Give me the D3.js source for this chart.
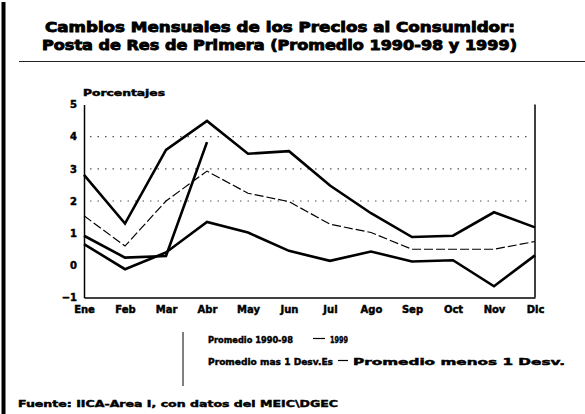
<!DOCTYPE html>
<html>
<head>
<meta charset="utf-8">
<script src="https://cdn.jsdelivr.net/npm/d3@7"></script>
<style>
  body { margin: 0; background: #fff; }
  svg { display: block; font-family: "DejaVu Sans", sans-serif; font-weight: bold; }
  text { stroke: #000; stroke-width: 0.45px; fill: #000; }
  text.title { stroke-width: 0.9px; }
</style>
</head>
<body>
<svg id="chart" width="585" height="414"></svg>
<script>
// meses y series (porcentaje de cambio mensual)
var months = ["Ene", "Feb", "Mar", "Abr", "May", "Jun", "Jul", "Ago", "Sep", "Oct", "Nov", "Dic"];
var masDesv = [2.81, 1.30, 3.59, 4.49, 3.47, 3.55, 2.48, 1.62, 0.88, 0.92, 1.65, 1.18];
var promedio = [1.54, 0.60, 2.00, 2.93, 2.24, 1.98, 1.28, 1.02, 0.50, 0.50, 0.50, 0.74];
var menosDesv = [0.66, -0.12, 0.40, 1.35, 1.02, 0.45, 0.14, 0.43, 0.12, 0.16, -0.65, 0.31];
var y1999 = [0.92, 0.24, 0.29, 3.83];
var yTicks = [-1, 0, 1, 2, 3, 4, 5];
var gridTicks = [2, 3, 4];

var svg = d3.select("#chart");

var x = d3.scalePoint().domain(months).range([84, 535]);
var y = d3.scaleLinear().domain([-1, 5]).range([297.5, 104.5]);

// barra izquierda y regla del titulo
svg.append("rect").attr("x", 1.5).attr("y", 2).attr("width", 4).attr("height", 412).attr("fill", "#000");
svg.append("line").attr("x1", 19).attr("x2", 585).attr("y1", 61.5).attr("y2", 61.5)
  .attr("stroke", "#222").attr("stroke-width", 1);

// titulo
svg.append("text").attr("class", "title").attr("x", 45).attr("y", 32).attr("font-size", 14.5)
  .attr("textLength", 470).attr("lengthAdjust", "spacingAndGlyphs")
  .text("Cambios Mensuales de los Precios al Consumidor:");
svg.append("text").attr("class", "title").attr("x", 42).attr("y", 49.5).attr("font-size", 14.5)
  .attr("textLength", 475).attr("lengthAdjust", "spacingAndGlyphs")
  .text("Posta de Res de Primera (Promedio 1990-98 y 1999)");

svg.append("text").attr("x", 83).attr("y", 95.5).attr("font-size", 8.5)
  .attr("textLength", 82).attr("lengthAdjust", "spacingAndGlyphs")
  .text("Porcentajes");

// cuadricula punteada
svg.append("g").selectAll("line").data(gridTicks).enter().append("line")
  .attr("x1", 90).attr("x2", 530)
  .attr("y1", function(d) { return y(d); }).attr("y2", function(d) { return y(d); })
  .attr("stroke", "#555").attr("stroke-width", 1.2).attr("stroke-dasharray", "1.5,6");

// ejes
var yAxis = svg.append("g").attr("transform", "translate(84,0)")
  .call(d3.axisLeft(y).tickValues(yTicks).tickSize(0).tickPadding(7).tickFormat(d3.format("d")));
yAxis.selectAll("text").attr("font-size", 10).attr("font-weight", "bold").attr("fill", "#000")
  .attr("font-family", "DejaVu Sans");
yAxis.select(".domain").attr("stroke", "#000").attr("stroke-width", 1.5);

var xAxis = svg.append("g").attr("transform", "translate(0,297.5)")
  .call(d3.axisBottom(x).tickSize(0).tickPadding(8));
xAxis.selectAll("text").attr("font-size", 10).attr("font-weight", "bold").attr("fill", "#000")
  .attr("font-family", "DejaVu Sans");
xAxis.select(".domain").attr("stroke", "#000").attr("stroke-width", 1.5);

// linea derecha
svg.append("line").attr("x1", x("Dic")).attr("x2", x("Dic")).attr("y1", y(5)).attr("y2", y(-1))
  .attr("stroke", "#000").attr("stroke-width", 1.5);

var line = d3.line()
  .x(function(d, i) { return x(months[i]); })
  .y(function(d) { return y(d); });

function drawSeries(values, width, dash) {
  svg.append("path").datum(values)
    .attr("d", line)
    .attr("fill", "none")
    .attr("stroke", "#000")
    .attr("stroke-width", width)
    .attr("stroke-linejoin", "miter")
    .attr("stroke-dasharray", dash);
}
drawSeries(promedio, 1.2, "9,3");
drawSeries(masDesv, 2.6, null);
drawSeries(menosDesv, 2.6, null);
drawSeries(y1999, 2.6, null);

// leyenda
svg.append("line").attr("x1", 183).attr("x2", 183).attr("y1", 332).attr("y2", 386)
  .attr("stroke", "#000").attr("stroke-width", 1);
var legendText = [
  { t: "Promedio 1990-98", x: 208, y: 343, w: 85 },
  { t: "1999", x: 330, y: 343, w: 18 },
  { t: "Promedio mas 1 Desv.Es", x: 208, y: 365, w: 125 },
  { t: "Promedio menos 1 Desv.", x: 353, y: 365, w: 212 }
];
svg.append("g").selectAll("text").data(legendText).enter().append("text")
  .attr("x", function(d) { return d.x; }).attr("y", function(d) { return d.y; })
  .attr("font-size", 9)
  .attr("textLength", function(d) { return d.w; }).attr("lengthAdjust", "spacingAndGlyphs")
  .text(function(d) { return d.t; });
svg.append("line").attr("x1", 313).attr("x2", 325).attr("y1", 338.5).attr("y2", 338.5)
  .attr("stroke", "#000").attr("stroke-width", 1.2);
svg.append("line").attr("x1", 338).attr("x2", 348).attr("y1", 360.5).attr("y2", 360.5)
  .attr("stroke", "#000").attr("stroke-width", 1.2);

// fuente
svg.append("text").attr("x", 18).attr("y", 407).attr("font-size", 9)
  .attr("textLength", 320).attr("lengthAdjust", "spacingAndGlyphs")
  .text("Fuente: IICA-Area I, con datos del MEIC\\DGEC");
</script>
</body>
</html>
